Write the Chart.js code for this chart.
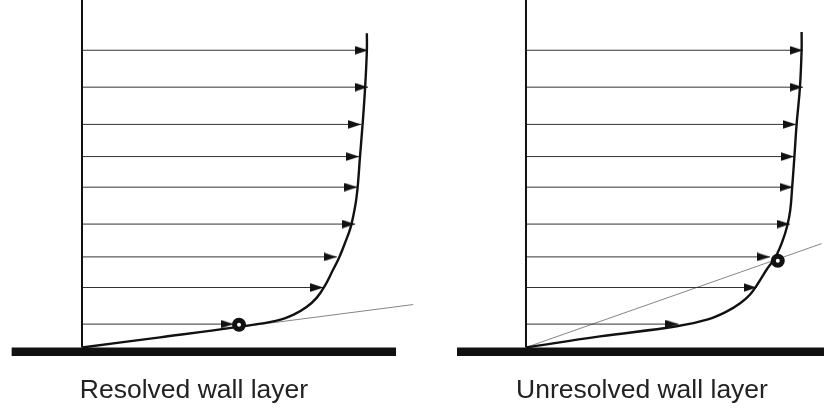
<!DOCTYPE html>
<html>
<head>
<meta charset="utf-8">
<script src="https://cdn.jsdelivr.net/npm/chart.js@4.4.1/dist/chart.umd.min.js"></script>
<style>
html,body{margin:0;padding:0;background:#fff;overflow:hidden;width:824px;height:412px;}
#wrap{position:relative;width:824px;height:412px;overflow:hidden;background:#fff;}
canvas{position:absolute;top:0;}
#c1{left:-26px;}
#c2{left:452px;}
</style>
</head>
<body>
<div id="wrap">
<canvas id="c1" width="440" height="412"></canvas>
<canvas id="c2" width="380" height="412"></canvas>
</div>
<script>
// ---- Data (u = velocity / free-stream velocity, y = height / boundary-layer thickness) ----
const panelTitles = ["Resolved wall layer", "Unresolved wall layer"];

// heights of the velocity arrows (same in both panels)
const arrowHeights = [0.074, 0.190, 0.287, 0.391, 0.508, 0.605, 0.707, 0.825, 0.942];

// arrow tip velocities
const resolvedArrowU   = [0.53, 0.844, 0.891, 0.955, 0.963, 0.969, 0.976, 1.0, 1.0];
const unresolvedArrowU = [0.55, 0.833, 0.881, 0.953, 0.963, 0.968, 0.975, 1.0, 1.0];

// velocity profiles
const resolvedProfileU = [0, 0.273, 0.552, 0.681, 0.740, 0.785, 0.821, 0.850, 0.876, 0.900, 0.922, 0.939, 0.951, 0.959, 0.965, 0.972, 0.981, 0.990, 0.996, 0.996];
const resolvedProfileY = [0, 0.032, 0.066, 0.085, 0.104, 0.128, 0.158, 0.197, 0.243, 0.287, 0.337, 0.380, 0.428, 0.470, 0.520, 0.605, 0.706, 0.825, 0.941, 0.996];

const unresolvedProfileU = [0, 0.267, 0.544, 0.660, 0.727, 0.773, 0.809, 0.839, 0.869, 0.899, 0.925, 0.943, 0.954, 0.961, 0.969, 0.977, 0.989, 0.995, 0.995];
const unresolvedProfileY = [0, 0.035, 0.067, 0.090, 0.115, 0.140, 0.168, 0.205, 0.247, 0.284, 0.335, 0.385, 0.435, 0.509, 0.605, 0.708, 0.825, 0.943, 1.0];

// first grid point (circle marker)
const resolvedPointU = [0.549];
const resolvedPointY = [0.072];
const unresolvedPointU = [0.909];
const unresolvedPointY = [0.275];

// wall-gradient (tangent) line end points
const resolvedTangentU = [0, 1.158];
const resolvedTangentY = [0, 0.136];
const unresolvedTangentU = [0, 1.067];
const unresolvedTangentY = [0, 0.329];

// wall extents
const resolvedWallU = [-0.246, 1.098];
const unresolvedWallU = [-0.249, 1.25];
const wallY = -0.0134;

// ---- arrowhead image (tip at image centre) ----
function makeArrowHead() {
  const L = 13, H = 9;
  const c = document.createElement('canvas');
  c.width = 2 * L; c.height = H;
  const g = c.getContext('2d');
  g.fillStyle = '#111';
  g.beginPath();
  g.moveTo(0, 0.3);
  g.lineTo(L, H / 2);
  g.lineTo(0, H - 0.3);
  g.closePath();
  g.fill();
  return c;
}
const arrowHead = makeArrowHead();

function zip(xs, ys) { return xs.map((x, i) => ({x: x, y: ys[i]})); }

function buildPanel(canvasId, title, arrowU, profU, profY, ptU, ptY, tanU, tanY, wallU, xRange) {
  const datasets = [];
  // circle marker (top)
  datasets.push({
    data: zip(ptU, ptY), showLine: false, order: 0,
    pointStyle: 'circle', pointRadius: 4.5, pointBorderWidth: 5,
    pointBorderColor: '#111', pointBackgroundColor: '#fff'
  });
  // profile
  datasets.push({
    data: zip(profU, profY), showLine: true, order: 1,
    borderColor: '#111', borderWidth: 2.4, tension: 0.4, pointRadius: 0, fill: false,
    borderJoinStyle: 'round'
  });
  // arrows
  arrowHeights.forEach((h, i) => {
    datasets.push({
      data: [{x: 0, y: h}, {x: arrowU[i], y: h}], showLine: true, order: 3,
      borderColor: '#333', borderWidth: 1, fill: false,
      pointStyle: arrowHead,
      pointRadius: (ctx) => ctx.dataIndex === 1 ? 5 : 0,
      pointBorderWidth: 0
    });
  });
  // tangent line
  datasets.push({
    data: zip(tanU, tanY), showLine: true, order: 4,
    borderColor: '#777', borderWidth: 0.9, pointRadius: 0, fill: false
  });
  // vertical axis (u = 0)
  datasets.push({
    data: [{x: 0, y: 0}, {x: 0, y: 1.3}], showLine: true, order: 2,
    borderColor: '#111', borderWidth: 2, pointRadius: 0, fill: false
  });
  // wall
  datasets.push({
    data: [{x: wallU[0], y: wallY}, {x: wallU[1], y: wallY}], showLine: true, order: 5,
    borderColor: '#111', borderWidth: 8.5, pointRadius: 0, fill: false
  });

  return new Chart(document.getElementById(canvasId), {
    type: 'scatter',
    data: { datasets: datasets },
    options: {
      responsive: false,
      animation: false,
      events: [],
      layout: { padding: 0, autoPadding: false },
      plugins: {
        legend: { display: false },
        tooltip: { enabled: false },
        title: {
          display: true, text: title, position: 'bottom',
          color: '#222',
          font: { family: "'Liberation Sans', Arial, Helvetica, sans-serif", size: 26.5, weight: 'normal' },
          padding: { top: 4, bottom: 5 }
        }
      },
      scales: {
        x: { type: 'linear', display: false, min: xRange[0], max: xRange[1] },
        y: { type: 'linear', display: false, min: -0.0753, max: 1.1013 }
      }
    }
  });
}

buildPanel('c1', panelTitles[0], resolvedArrowU, resolvedProfileU, resolvedProfileY,
  resolvedPointU, resolvedPointY, resolvedTangentU, resolvedTangentY, resolvedWallU, [-0.3776, 1.1608]);
buildPanel('c2', panelTitles[1], unresolvedArrowU, unresolvedProfileU, unresolvedProfileY,
  unresolvedPointU, unresolvedPointY, unresolvedTangentU, unresolvedTangentY, unresolvedWallU, [-0.2671, 1.1047]);
</script>
</body>
</html>
